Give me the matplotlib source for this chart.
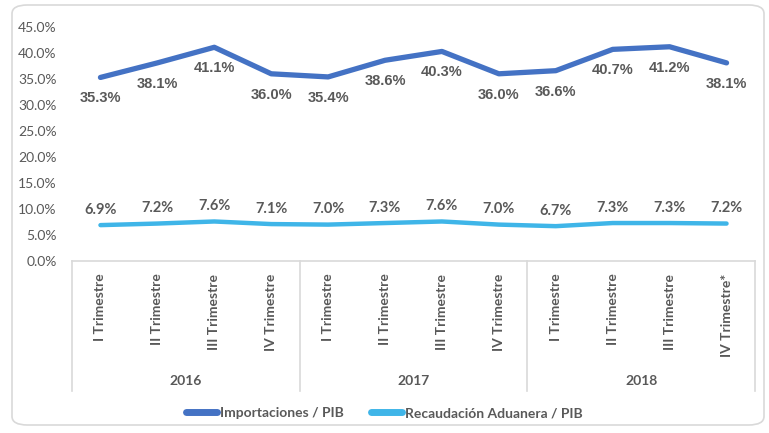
import matplotlib.pyplot as plt
from matplotlib.patches import FancyBboxPatch
from matplotlib.ticker import FuncFormatter

# data
quarters = ["I Trimestre", "II Trimestre", "III Trimestre", "IV Trimestre",
            "I Trimestre", "II Trimestre", "III Trimestre", "IV Trimestre",
            "I Trimestre", "II Trimestre", "III Trimestre", "IV Trimestre*"]
years = ["2016", "2017", "2018"]
importaciones = [35.3, 38.1, 41.1, 36.0, 35.4, 38.6, 40.3, 36.0, 36.6, 40.7, 41.2, 38.1]
recaudacion = [6.9, 7.2, 7.6, 7.1, 7.0, 7.3, 7.6, 7.0, 6.7, 7.3, 7.3, 7.2]

gray = "#595959"
dark_blue = "#4472C4"
light_blue = "#3FB5E8"
font = ["Lato", "DejaVu Sans"]

fig = plt.figure(figsize=(7.69, 4.33), dpi=100)
W, H = 769, 433

# rounded chart border
border = FancyBboxPatch((12 / W, 8 / H), 752 / W, 420 / H,
                        boxstyle="round,pad=0,rounding_size=0.02",
                        transform=fig.transFigure, fill=False,
                        edgecolor="#D9D9D9", linewidth=1.2)
fig.patches.append(border)

ax = fig.add_axes([72 / W, 1 - 261 / H, 683 / W, 234 / H])
x = list(range(len(quarters)))

ax.plot(x, importaciones, color=dark_blue, linewidth=3.8, solid_capstyle="round",
        label="Importaciones / PIB")
ax.plot(x, recaudacion, color=light_blue, linewidth=3.2, solid_capstyle="round",
        label="Recaudación Aduanera / PIB")

for xi, v in zip(x, importaciones):
    ax.annotate(f"{v:.1f}%", (xi, v), xytext=(0, -15), textcoords="offset points",
                ha="center", va="center", fontsize=10.5, fontweight="bold",
                color=gray, family=["Liberation Sans", "DejaVu Sans"])
for xi, v in zip(x, recaudacion):
    ax.annotate(f"{v:.1f}%", (xi, v), xytext=(0, 11), textcoords="offset points",
                ha="center", va="center", fontsize=10.5, fontweight="bold",
                color=gray, family=font)

ax.set_xlim(-0.5, len(quarters) - 0.5)
ax.set_ylim(0, 45)
ax.set_yticks(range(0, 50, 5))
ax.yaxis.set_major_formatter(FuncFormatter(lambda v, p: f"{v:.1f}%"))
for lab in ax.get_yticklabels():
    lab.set_family(font)
ax.tick_params(axis="y", length=0, pad=11, labelsize=10, labelcolor=gray)

ax.set_xticks(x)
ax.set_xticklabels(quarters, rotation=90, va="top", fontsize=10,
                   fontweight="bold", color=gray, family=font)
ax.tick_params(axis="x", length=0, pad=9)

for s in ["left", "right", "top"]:
    ax.spines[s].set_visible(False)
ax.spines["bottom"].set_color("#D9D9D9")
ax.spines["bottom"].set_linewidth(1.2)

# group separators and year labels
sep_bottom = -(391 - 261) / 234
for g in range(len(years) + 1):
    xs = g * 4 - 0.5
    ax.plot([xs, xs], [0, sep_bottom], color="#D9D9D9", linewidth=1.2,
            transform=ax.get_xaxis_transform(), clip_on=False)
for g, yr in enumerate(years):
    ax.text(g * 4 + 1.5, -(381 - 261) / 234, yr, ha="center", va="center",
            fontsize=10, fontweight="bold", color=gray, family=font,
            transform=ax.get_xaxis_transform())

leg = fig.legend(loc="center", bbox_to_anchor=(0.5, 1 - 413 / H), ncol=2,
                 frameon=False, handlelength=2.2, columnspacing=2.0,
                 handletextpad=0.2, prop={"family": font, "weight": "bold", "size": 10})
for t in leg.get_texts():
    t.set_color(gray)
for h in leg.get_lines():
    h.set_linewidth(5)

fig.savefig("out.png", dpi=100)
